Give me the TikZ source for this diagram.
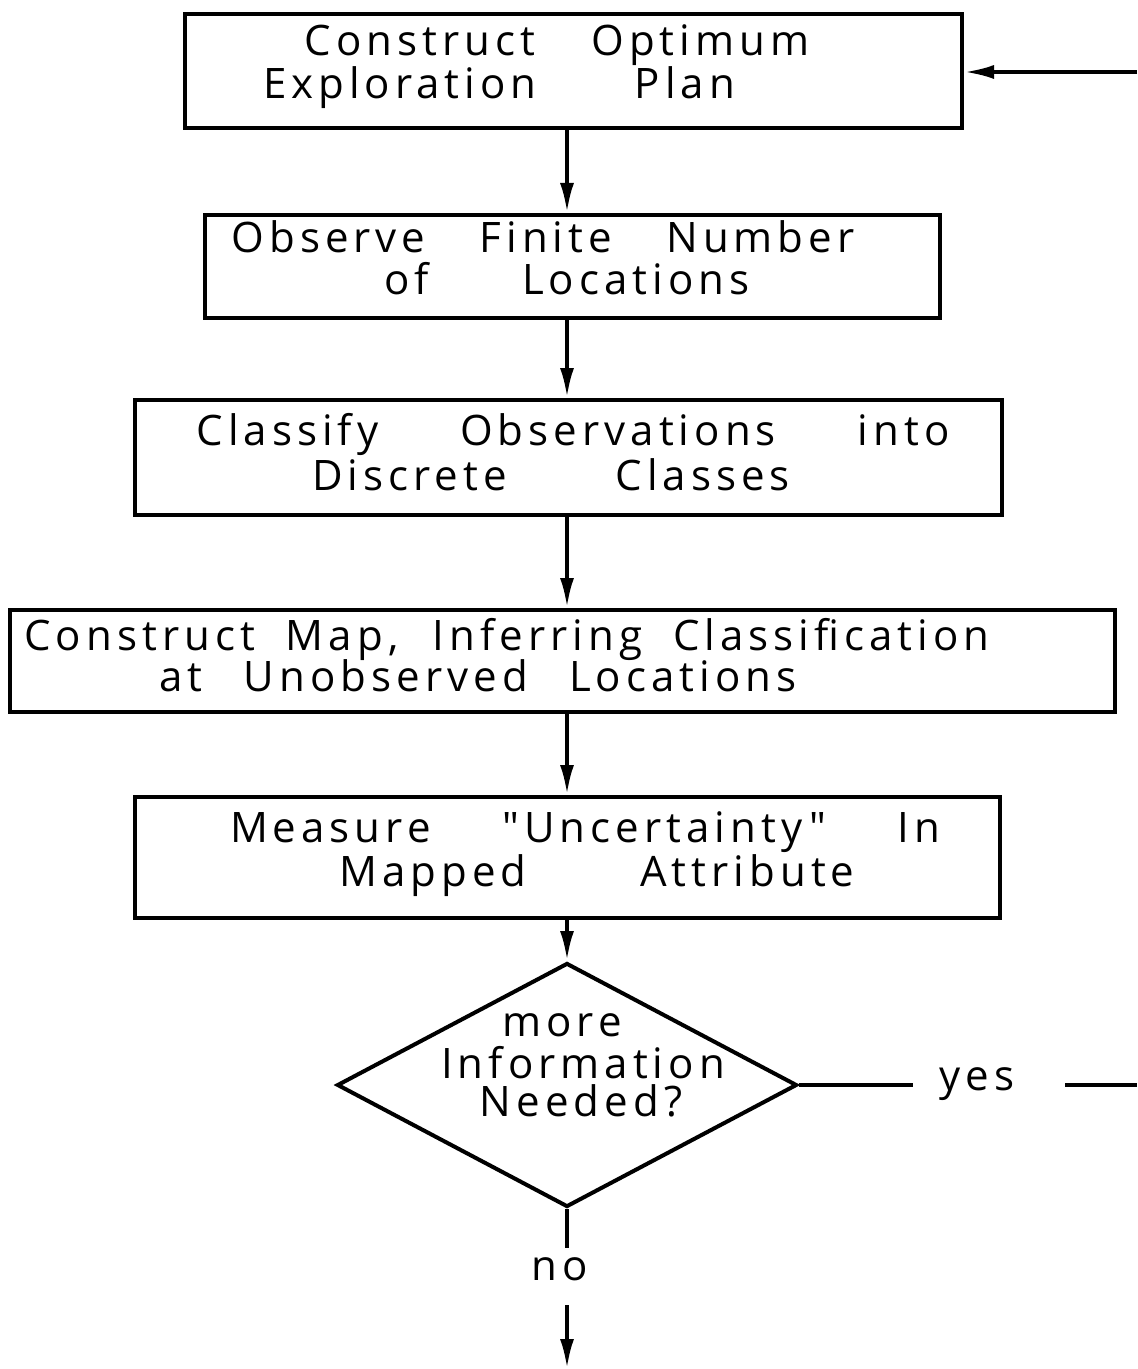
\documentclass[tikz,border=0pt]{standalone}
\usepackage{fontspec}
\setmainfont{Open Sans}[LetterSpace=12, Ligatures=TeXOff]
\usetikzlibrary{arrows.meta,shapes.geometric}
\newcommand{\fitline}[2]{\makebox[#1][s]{#2}}
\begin{document}
\begin{tikzpicture}[x=0.5pt,y=-0.5pt,
  box/.style={draw, line width=2pt, rectangle, inner sep=0pt},
  dia/.style={draw, line width=2pt, diamond, inner sep=0pt},
  flow/.style={line width=2pt, -{Latex[length=15pt,width=7pt]}},
  conn/.style={line width=2pt},
  txt/.style={font=\fontsize{21}{25}\selectfont, inner sep=0pt, anchor=center, text height=0.68em, text depth=0.12em}]
\useasboundingbox (0,0) rectangle (1137,1369);
% boxes
\node[box, minimum width=388.5pt, minimum height=57pt] (b1) at (573.5,71) {};
\node[box, minimum width=367.5pt, minimum height=51.5pt] (b2) at (572.5,266.5) {};
\node[box, minimum width=433.5pt, minimum height=57.5pt] (b3) at (568.5,457.5) {};
\node[box, minimum width=552.5pt, minimum height=51pt] (b4) at (562.5,661) {};
\node[box, minimum width=432.5pt, minimum height=60.5pt] (b5) at (567.5,857.5) {};
\node[dia, minimum width=230pt, minimum height=122pt] (d) at (567,1085) {};
% texts
\node[txt] (t1a) at (557,50) {\fitline{252.5pt}{Construct Optimum}};
\node[txt] (t1b) at (499,93) {\fitline{236pt}{Exploration Plan}};
\node[txt] (t2a) at (543,247) {\fitline{311.5pt}{Observe Finite Number}};
\node[txt] (t2b) at (567,289) {\fitline{182.5pt}{of Locations}};
\node[txt] (t3a) at (573,440) {\fitline{376.5pt}{Classify Observations into}};
\node[txt] (t3b) at (551,485) {\fitline{239pt}{Discrete Classes}};
\node[txt] (t4a) at (507,645) {\fitline{482.5pt}{Construct Map, Inferring Classification}};
\node[txt] (t4b) at (478,686) {\fitline{318.5pt}{at Unobserved Locations}};
\node[txt] (t5a) at (585,837) {\fitline{355pt}{Measure "Uncertainty" In}};
\node[txt] (t5b) at (597,881) {\fitline{257.5pt}{Mapped Attribute}};
\node[txt] (t6a) at (562,1031) {more};
\node[txt] (t6b) at (583,1073) {Information};
\node[txt] (t6c) at (581,1111) {Needed?};
\node[txt] (yes) at (977,1085) {yes};
\node[txt] (no) at (560,1275) {no};
% connectors
\draw[flow] (b1.south -| d.north) -- (b2.north -| d.north);
\draw[flow] (b2.south -| d.north) -- (b3.north -| d.north);
\draw[flow] (b3.south -| d.north) -- (b4.north -| d.north);
\draw[flow] (b4.south -| d.north) -- (b5.north -| d.north);
\draw[flow] (b5.south -| d.north) -- (d.north);
\coordinate (y1) at (913,1085);
\coordinate (y2) at (1065,1085);
\coordinate (y3) at (1137,1085);
\coordinate (fb) at (1137,72);
\draw[conn] (d.east) -- (y1);
\draw[conn] (y2) -- (y3);
\draw[flow] (fb) -- (b1.east |- fb);
\coordinate (n1) at (567,1248);
\coordinate (n2) at (567,1305);
\coordinate (n3) at (567,1369);
\draw[conn] (d.south) -- (n1);
\draw[flow] (n2) -- (n3);
\end{tikzpicture}
\end{document}
